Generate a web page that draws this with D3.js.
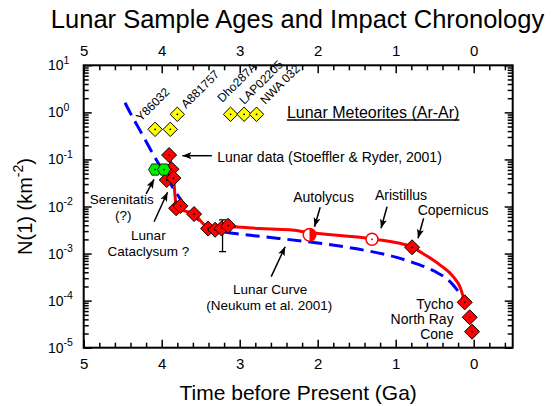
<!DOCTYPE html>
<html><head><meta charset="utf-8">
<script src="https://cdn.jsdelivr.net/npm/d3@7"></script>
<style>
html,body{margin:0;padding:0;background:#fff;}
svg{display:block;font-family:"Liberation Sans",Arial,Helvetica,sans-serif;}
</style></head><body>
<svg id="chart" width="559" height="406"></svg>
<script>
// ---------------- DATA ----------------
const xTickValues = [5, 4, 3, 2, 1, 0];
const yExponents = [-5, -4, -3, -2, -1, 0, 1];

// Lunar curve (Neukum et al. 2001), blue dashed
const neukumAge = [4.47, 4.4, 4.3, 4.2, 4.1, 4.0, 3.9, 3.8, 3.7, 3.6, 3.5, 3.4, 3.3, 3.2, 3.0, 2.5, 2.0, 1.5, 1.0, 0.7, 0.5, 0.3, 0.145];
const neukumN   = [1.6, 0.95, 0.48, 0.24, 0.12, 0.063, 0.033, 0.018, 0.0105, 0.0067, 0.0048, 0.0038, 0.0033, 0.0029, 0.0026, 0.0021, 0.00168, 0.00126, 0.00084, 0.00058, 0.00042, 0.00025, 0.00012];

// Lunar data curve (red solid)
const dataCurveAge = [3.905, 3.87, 3.845, 3.83, 3.805, 3.585, 3.405, 3.15, 2.74, 2.36, 2.11, 1.30, 0.79, 0.69, 0.43, 0.26, 0.17, 0.115];
const dataCurveN   = [0.124, 0.063, 0.037, 0.0175, 0.0093, 0.0069, 0.0037, 0.0037, 0.0034, 0.0032, 0.0028, 0.00205, 0.00138, 0.0011, 0.00057, 0.00032, 0.000186, 0.000092];

// Lunar samples (Stoeffler & Ryder 2001), red diamonds
const sampleAge = [3.905, 3.875, 3.935, 3.85, 3.815, 3.76, 3.585, 3.405, 3.315, 3.233, 3.148];
const sampleN   = [0.124, 0.062, 0.0366, 0.040, 0.0092, 0.0103, 0.0069, 0.0034, 0.0032, 0.0034, 0.0039];

// Error bar
const errAge = [3.22];
const errLow = [0.0011];
const errHigh = [0.0052];

// Serenitatis (green hexagons)
const serenitatisAge = [4.085, 3.97];
const serenitatisN   = [0.061, 0.061];

// Lunar meteorites (Ar-Ar), yellow diamonds
const meteoriteAge = [4.085, 3.89, 3.80, 3.117, 2.943, 2.784];
const meteoriteN   = [0.436, 0.436, 0.91, 0.91, 0.91, 0.91];
const meteoriteNames = ["Y86032", "A881757", "Dho287A", "LAP02205", "NWA 032"];

// Craters
const craterNames = ["Autolycus", "Aristillus", "Copernicus", "Tycho", "North Ray", "Cone"];
const craterAge   = [2.105, 1.304, 0.79, 0.115, 0.051, 0.021];
const craterN     = [0.0025, 0.00201, 0.00136, 0.000092, 0.0000443, 0.0000219];

// ---------------- LAYOUT ----------------
const L = 83.7, R = 512.7, T = 65.3, B = 347.7;
const FONT = '"Liberation Sans",Arial,Helvetica,sans-serif';

const svg = d3.select("#chart");
const x = d3.scaleLinear().domain([5, -0.5]).range([L, R]);
const y = d3.scaleLog().domain([1e-5, 10]).range([B, T]);

// minor ticks
const minorX = d3.range(-2, 26).map(i => +(i * 0.2).toFixed(1)).filter(v => Math.abs(v - Math.round(v)) > 1e-6 && v <= 5 && v >= -0.5);
const minorY = [];
yExponents.slice(0, -1).forEach(e => { for (let m = 2; m <= 9; m++) minorY.push(m * Math.pow(10, e)); });
const majorY = yExponents.map(e => Math.pow(10, e));

function styleAxis(g) {
  g.select(".domain").remove();
  g.selectAll(".tick line").attr("stroke", "#000").attr("stroke-width", 1.5);
  g.selectAll("text").attr("font-family", FONT).attr("fill", "#000");
}

// bottom
svg.append("g").attr("transform", `translate(0,${B})`)
  .call(d3.axisBottom(x).tickValues(xTickValues).tickSize(-8).tickPadding(11).tickFormat(d3.format("d")))
  .call(styleAxis).call(g => g.selectAll("text").attr("font-size", 15));
svg.append("g").attr("transform", `translate(0,${B})`)
  .call(d3.axisBottom(x).tickValues(minorX).tickSize(-5).tickFormat(""))
  .call(styleAxis);
// top
svg.append("g").attr("transform", `translate(0,${T})`)
  .call(d3.axisTop(x).tickValues(xTickValues).tickSize(-8).tickPadding(9).tickFormat(d3.format("d")))
  .call(styleAxis).call(g => g.selectAll("text").attr("font-size", 15));
svg.append("g").attr("transform", `translate(0,${T})`)
  .call(d3.axisTop(x).tickValues(minorX).tickSize(-5).tickFormat(""))
  .call(styleAxis);
// left
svg.append("g").attr("transform", `translate(${L},0)`)
  .call(d3.axisLeft(y).tickValues(majorY).tickSize(-8).tickFormat(""))
  .call(styleAxis);
svg.append("g").attr("transform", `translate(${L},0)`)
  .call(d3.axisLeft(y).tickValues(minorY).tickSize(-5).tickFormat(""))
  .call(styleAxis);
// right
svg.append("g").attr("transform", `translate(${R},0)`)
  .call(d3.axisRight(y).tickValues(majorY).tickSize(-8).tickFormat(""))
  .call(styleAxis);
svg.append("g").attr("transform", `translate(${R},0)`)
  .call(d3.axisRight(y).tickValues(minorY).tickSize(-5).tickFormat(""))
  .call(styleAxis);

// y tick labels 10^n
const yl = svg.append("g").attr("font-family", FONT).attr("font-size", 14);
yExponents.forEach(e => {
  const t = yl.append("text").attr("x", 48).attr("y", y(Math.pow(10, e)) + 5);
  t.append("tspan").text("10");
  t.append("tspan").attr("font-size", 10.5).attr("dy", -6.5).text(e);
});

// frame
svg.append("rect").attr("x", L).attr("y", T).attr("width", R - L).attr("height", B - T)
  .attr("fill", "none").attr("stroke", "#000").attr("stroke-width", 2);

// titles
svg.append("text").attr("x", 297.5).attr("y", 28).attr("text-anchor", "middle")
  .attr("font-size", 25.5).attr("font-family", FONT).text("Lunar Sample Ages and Impact Chronology");
svg.append("text").attr("x", (L + R) / 2).attr("y", 400).attr("text-anchor", "middle")
  .attr("font-size", 21).attr("font-family", FONT).text("Time before Present (Ga)");
const yt = svg.append("text").attr("transform", `translate(32,${(T + B) / 2}) rotate(-90)`)
  .attr("text-anchor", "middle").attr("font-size", 20).attr("font-family", FONT);
yt.append("tspan").text("N(1) (km");
yt.append("tspan").attr("font-size", 14).attr("dy", -9).text("-2");
yt.append("tspan").attr("dy", 9).text(")");

// ---------------- MARKS ----------------
const line = d3.line().x(d => x(d[0])).y(d => y(d[1])).curve(d3.curveMonotoneX);

svg.append("path").datum(neukumAge.map((a, i) => [a, neukumN[i]]))
  .attr("d", line).attr("fill", "none").attr("stroke", "#0000ff")
  .attr("stroke-width", 3).attr("stroke-dasharray", "14,7");

svg.append("path").datum(dataCurveAge.map((a, i) => [a, dataCurveN[i]]))
  .attr("d", line).attr("fill", "none").attr("stroke", "#ff0000")
  .attr("stroke-width", 3);

// error bar
errAge.forEach((a, i) => {
  const g = svg.append("g").attr("stroke", "#000").attr("stroke-width", 1.3);
  g.append("line").attr("x1", x(a)).attr("x2", x(a)).attr("y1", y(errHigh[i])).attr("y2", y(errLow[i]));
  g.append("line").attr("x1", x(a) - 3.5).attr("x2", x(a) + 3.5).attr("y1", y(errHigh[i])).attr("y2", y(errHigh[i]));
  g.append("line").attr("x1", x(a) - 3.5).attr("x2", x(a) + 3.5).attr("y1", y(errLow[i])).attr("y2", y(errLow[i]));
});

const diamond = s => `M0,${-s}L${s},0L0,${s}L${-s},0Z`;
function drawDiamonds(ages, ns, s, fill) {
  const g = svg.append("g");
  ages.forEach((a, i) => {
    const m = g.append("g").attr("transform", `translate(${x(a)},${y(ns[i])})`);
    m.append("path").attr("d", diamond(s)).attr("fill", fill).attr("stroke", "#000").attr("stroke-width", 1);
    m.append("circle").attr("r", 0.9).attr("fill", "#000");
  });
}
drawDiamonds(sampleAge, sampleN, 7.5, "#ff0000");
drawDiamonds(meteoriteAge, meteoriteN, 7.2, "#ffff00");

// green hexagons
const hex = r => d3.range(6).map(k => { const ang = k * Math.PI / 3; return [r * Math.cos(ang), r * Math.sin(ang)]; });
serenitatisAge.forEach((a, i) => {
  const m = svg.append("g").attr("transform", `translate(${x(a)},${y(serenitatisN[i])})`);
  m.append("path").attr("d", "M" + hex(6.5).join("L") + "Z").attr("fill", "#00ee00").attr("stroke", "#000").attr("stroke-width", 0.8);
  m.append("circle").attr("r", 0.9).attr("fill", "#000");
});

// craters
{
  const m = svg.append("g").attr("transform", `translate(${x(craterAge[0])},${y(craterN[0])})`);
  m.append("circle").attr("r", 6.3).attr("fill", "#fff").attr("stroke", "#ff0000").attr("stroke-width", 1.5);
  m.append("path").attr("d", "M0,-6.3A6.3,6.3 0 0 1 0,6.3Z").attr("fill", "#ff0000");
}
{
  const m = svg.append("g").attr("transform", `translate(${x(craterAge[1])},${y(craterN[1])})`);
  m.append("circle").attr("r", 6).attr("fill", "#fff").attr("stroke", "#ff0000").attr("stroke-width", 1.5);
  m.append("circle").attr("r", 0.9).attr("fill", "#a00");
}
drawDiamonds(craterAge.slice(2), craterN.slice(2), 7.5, "#ff0000");

// ---------------- ANNOTATIONS ----------------
const defs = svg.append("defs");
defs.append("marker").attr("id", "ah").attr("markerUnits", "userSpaceOnUse")
  .attr("markerWidth", 10).attr("markerHeight", 8).attr("refX", 9).attr("refY", 4)
  .attr("orient", "auto")
  .append("path").attr("d", "M0,0.5L9,4L0,7.5L2,4Z").attr("fill", "#000");

// [tailAge, tailLogN, headAge, headLogN]
const arrows = [
  [3.357, -0.921, 3.735, -0.921],
  [4.20, -1.734, 4.098, -1.422],
  [4.098, -2.323, 3.925, -1.698],
  [1.968, -2.017, 2.041, -2.429],
  [1.111, -2.004, 1.188, -2.463],
  [0.642, -2.25, 0.714, -2.675],
  [2.596, -3.491, 2.417, -2.854]
];
svg.append("g").selectAll("line").data(arrows).join("line")
  .attr("x1", d => x(d[0])).attr("y1", d => y(Math.pow(10, d[1])))
  .attr("x2", d => x(d[2])).attr("y2", d => y(Math.pow(10, d[3])))
  .attr("stroke", "#000").attr("stroke-width", 1.5).attr("marker-end", "url(#ah)");

// [text, age, logN, anchor, fontSize]
const labels = [
  ["Lunar data (Stoeffler & Ryder, 2001)", 3.289, -1.054, "start", 14],
  ["Serenitatis", 4.512, -1.955, "middle", 13.5],
  ["(?)", 4.492, -2.29, "middle", 13.5],
  ["Lunar", 4.171, -2.72, "middle", 13.5],
  ["Cataclysum ?", 4.171, -3.055, "middle", 13.5],
  ["Autolycus", 1.925, -1.894, "middle", 14],
  ["Aristillus", 0.932, -1.862, "middle", 14],
  ["Copernicus", 0.264, -2.18, "middle", 14],
  ["Lunar Curve", 2.609, -3.865, "middle", 13.5],
  ["(Neukum et al. 2001)", 2.622, -4.195, "middle", 13.5],
  ["Tycho", 0.257, -4.177, "end", 14],
  ["North Ray", 0.257, -4.496, "end", 14],
  ["Cone", 0.257, -4.815, "end", 14]
];
svg.append("g").attr("font-family", FONT)
  .selectAll("text").data(labels).join("text")
  .attr("x", d => x(d[1])).attr("y", d => y(Math.pow(10, d[2])))
  .attr("font-size", d => d[4])
  .attr("text-anchor", d => d[3]).text(d => d[0]);

// Meteorites header (underlined)
{
  const hx = x(2.395), hy = y(Math.pow(10, -0.12));
  const t = svg.append("text").attr("x", hx).attr("y", hy).attr("font-family", FONT)
    .attr("font-size", 16).text("Lunar Meteorites (Ar-Ar)");
  const w = t.node().getComputedTextLength();
  svg.append("line").attr("x1", hx).attr("x2", hx + w).attr("y1", hy + 2).attr("y2", hy + 2)
    .attr("stroke", "#000").attr("stroke-width", 1.3);
}

// rotated meteorite labels [age, logN]
const meteoriteLabelPos = [[4.265, -0.205], [3.687, 0.072], [3.225, 0.199], [2.943, 0.157], [2.674, 0.157]];
svg.append("g").attr("font-family", FONT).attr("font-size", 12)
  .selectAll("text").data(meteoriteNames).join("text")
  .attr("transform", (d, i) => `translate(${x(meteoriteLabelPos[i][0])},${y(Math.pow(10, meteoriteLabelPos[i][1]))}) rotate(-45)`)
  .text(d => d);
</script>
</body></html>
